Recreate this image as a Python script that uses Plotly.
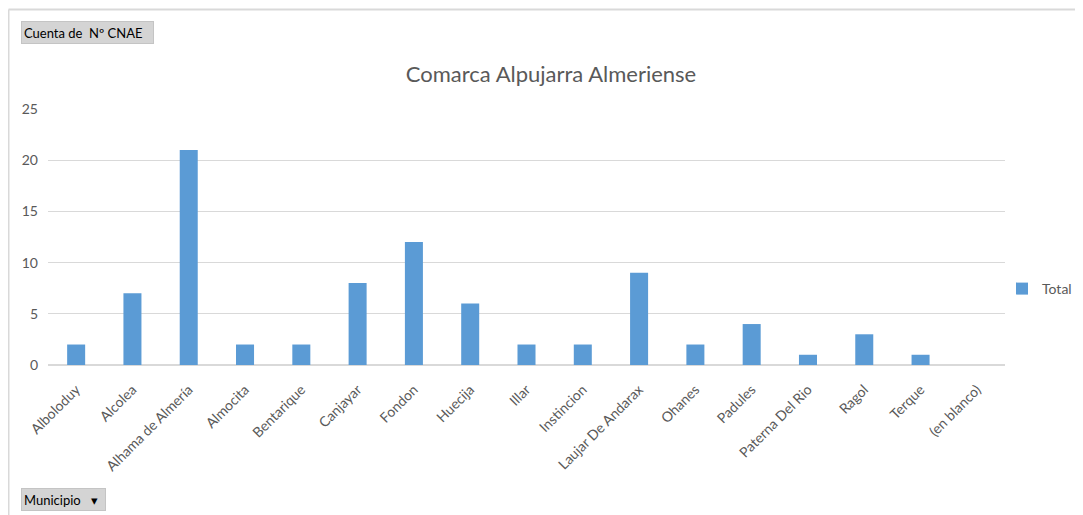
import plotly.graph_objects as go

municipios = ["Alboloduy", "Alcolea", "Alhama de Almería", "Almocita", "Bentarique",
              "Canjayar", "Fondon", "Huecija", "Illar", "Instincion",
              "Laujar De Andarax", "Ohanes", "Padules", "Paterna Del Rio", "Ragol",
              "Terque", "(en blanco)"]
totales = [2, 7, 21, 2, 2, 8, 12, 6, 2, 2, 9, 2, 4, 1, 3, 1, None]
y_ticks = [0, 5, 10, 15, 20, 25]

OFF = 8  # page body margin
W, H = 1083 - OFF, 515 - OFF
L, R, T, B = 48 - OFF, 1005 - OFF, 109 - OFF, 365 - OFF
pw, ph = R - L, B - T

def px(x):
    # x in reference page pixels -> paper
    return (x - OFF - L) / pw

def py(y):
    return (B - (y - OFF)) / ph

FONT = "Lato, Open Sans, sans-serif"
GREY = "#595959"

fig = go.Figure()
fig.add_trace(go.Bar(x=municipios, y=totales, name="Total",
                     marker=dict(color="#5B9BD5", line=dict(width=0)),
                     showlegend=True))

fig.update_layout(
    width=W, height=H,
    margin=dict(l=L, r=W - R, t=T, b=H - B, autoexpand=False),
    paper_bgcolor="white", plot_bgcolor="white",
    font=dict(family=FONT, color=GREY, size=14),
    bargap=0.68,
    showlegend=True,
    hovermode=False,
    title=dict(text="Comarca Alpujarra Almeriense", x=(551 - OFF) / W, xanchor="center",
               y=1 - (74 - OFF) / H, yanchor="middle", yref="container",
               font=dict(family=FONT, size=22, color=GREY)),
    legend=dict(x=px(1002), xanchor="left", y=py(289), yanchor="middle",
                font=dict(family=FONT, size=14, color=GREY),
                itemwidth=30, bgcolor="rgba(0,0,0,0)"),
    xaxis=dict(tickangle=-45, showgrid=False, showline=True, linecolor="#d9d9d9",
               linewidth=1, ticks="", ticklabelstandoff=10,
               tickfont=dict(family=FONT, size=14, color=GREY),
               fixedrange=True),
    yaxis=dict(range=[0, 25], tickvals=y_ticks, showgrid=True, gridcolor="#d9d9d9",
               gridwidth=1, zeroline=True, zerolinecolor="#d9d9d9", showline=False,
               ticks="", ticklabelstandoff=9,
               tickfont=dict(family=FONT, size=14, color=GREY), fixedrange=True),
    shapes=[
        dict(type="line", xref="paper", yref="paper", x0=px(8.5), x1=px(1083),
             y0=py(9.5), y1=py(9.5), line=dict(color="#d9d9d9", width=2)),
        dict(type="line", xref="paper", yref="paper", x0=px(8.5), x1=px(8.5),
             y0=py(9.5), y1=py(515), line=dict(color="#d9d9d9", width=2)),
    ],
    annotations=[
        dict(text="Cuenta de\u00a0\u00a0Nº CNAE", xref="paper", yref="paper",
             x=px(21), xanchor="left", y=py(32.5), yanchor="middle",
             showarrow=False, align="left", width=127, height=17,
             bgcolor="#d4d4d4", bordercolor="#c4c4c4", borderwidth=1, borderpad=2,
             font=dict(family=FONT, size=13, color="#000000")),
        dict(text="Municipio\u00a0\u00a0\u00a0▾", xref="paper", yref="paper",
             x=px(21), xanchor="left", y=py(499.5), yanchor="middle",
             showarrow=False, align="left", width=79, height=17,
             bgcolor="#d4d4d4", bordercolor="#c4c4c4", borderwidth=1, borderpad=2,
             font=dict(family=FONT, size=13, color="#000000")),
    ],
)

fig.write_html("out.html", config={"displayModeBar": False})
